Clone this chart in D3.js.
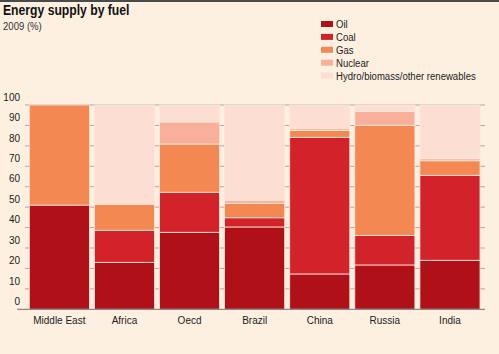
<!DOCTYPE html>
<html><head><meta charset="utf-8">
<script src="https://cdn.jsdelivr.net/npm/d3@7"></script>
<style>
html,body{margin:0;padding:0;background:#fdf0e1;}
svg{display:block;}
text{font-family:"Liberation Sans",Arial,sans-serif;}
</style></head><body>
<svg id="c" width="499" height="354"></svg>
<script>
const categories = ["Middle East","Africa","Oecd","Brazil","China","Russia","India"];
const oil        = [51, 23.0, 37.7, 40.3, 17.3, 21.7, 24.0];
const coal       = [0, 15.7, 19.6, 4.5, 66.9, 14.5, 41.6];
const gas        = [49, 12.7, 23.6, 7.1, 3.4, 53.9, 7.1];
const nuclear    = [0, 0, 10.8, 1.5, 0.8, 6.8, 1.0];
const renewables = [0, 48.6, 8.3, 46.6, 11.6, 3.1, 26.3];
const seriesNames = ["Oil","Coal","Gas","Nuclear","Hydro/biomass/other renewables"];
const colors = ["#b01119","#d2232b","#f38853","#f9b09b","#fcdfd2"];
const yTicks = [0,10,20,30,40,50,60,70,80,90,100];

const svg = d3.select("#c");
const W = 499, H = 354;
const SX = 0.87; // horizontal condensing to mimic a narrow face
svg.append("rect").attr("width",W).attr("height",H).attr("fill","#fdf0e1");
svg.append("line").attr("x1",0).attr("x2",W).attr("y1",1).attr("y2",1).attr("stroke","#4a4a4a").attr("stroke-width",2);

svg.append("text").attr("transform",`translate(3,15) scale(${SX},1)`).attr("font-weight","bold").attr("font-size",14).attr("fill","#111").text("Energy supply by fuel");
svg.append("text").attr("transform",`translate(3,30) scale(${SX},1)`).attr("font-size",11).attr("fill","#333").text("2009 (%)");

const data = categories.map((c,i)=>({cat:c, Oil:oil[i], Coal:coal[i], Gas:gas[i], Nuclear:nuclear[i], "Hydro/biomass/other renewables":renewables[i]}));
const stack = d3.stack().keys(seriesNames)(data);

const x = d3.scaleBand().domain(categories).range([29.3,480]).paddingInner(0.077).paddingOuter(0);
const y = d3.scaleLinear().domain([0,100]).range([309.3,105]);

// gridlines
svg.append("g").selectAll("line").data(yTicks.filter(t=>t>0)).join("line")
  .attr("x1",25).attr("x2",485).attr("y1",d=>y(d)).attr("y2",d=>y(d))
  .attr("stroke","#a9a9a9").attr("stroke-width",1);

// bars
const g = svg.append("g");
stack.forEach((s,si)=>{
  g.append("g").selectAll("rect").data(s).join("rect")
    .attr("x",d=>x(d.data.cat)).attr("width",x.bandwidth())
    .attr("y",d=>y(d[1])).attr("height",d=>Math.max(0,y(d[0])-y(d[1])))
    .attr("fill",colors[si]).attr("stroke","#fbe7dc").attr("stroke-width",d=>(d[1]-d[0])>0?0.8:0);
});

// baseline
svg.append("line").attr("x1",17).attr("x2",485).attr("y1",y(0)).attr("y2",y(0)).attr("stroke","#8a8a8a").attr("stroke-width",1.2);

// y axis labels
const yAxis = d3.axisLeft(y).tickValues(yTicks).tickSize(0).tickPadding(0);
const ya = svg.append("g").attr("transform","translate(20,-8.5)").call(yAxis);
ya.select(".domain").remove();
ya.selectAll(".tick text").attr("font-size",11.5).attr("fill","#222").attr("font-family","Liberation Sans, Arial, sans-serif")
  .attr("transform",`scale(${SX},1)`);

// x axis labels
const xAxis = d3.axisBottom(x).tickSize(0).tickPadding(0);
const xa = svg.append("g").attr("transform","translate(0,316)").call(xAxis);
xa.select(".domain").remove();
xa.selectAll(".tick text").attr("font-size",11.5).attr("fill","#222").attr("font-family","Liberation Sans, Arial, sans-serif")
  .attr("transform",`scale(${SX},1)`);

// legend
const lg = svg.append("g");
seriesNames.forEach((n,i)=>{
  const yy = 24 + i*12.9;
  lg.append("rect").attr("x",321).attr("y",yy-3).attr("width",12).attr("height",6).attr("fill",colors[i]);
  lg.append("text").attr("transform",`translate(336,${yy+4}) scale(${SX},1)`).attr("font-size",11).attr("fill","#222").text(n);
});
</script></body></html>
